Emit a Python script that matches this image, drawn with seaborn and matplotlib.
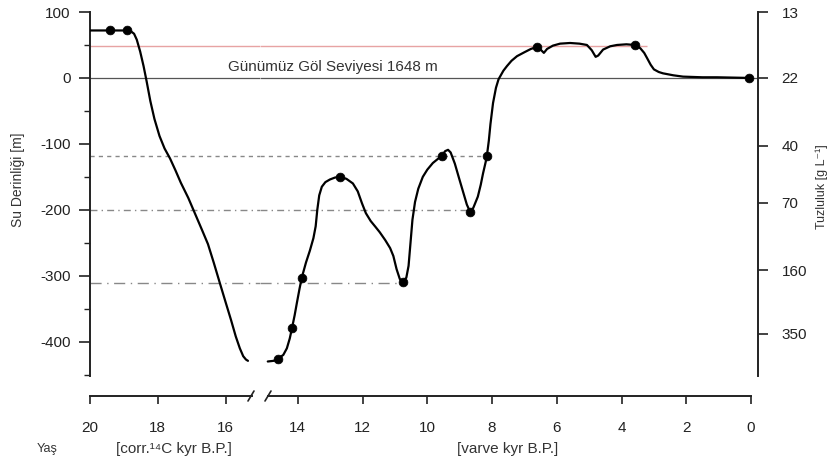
import seaborn as sns
import matplotlib.pyplot as plt
import matplotlib.lines as mlines
import pandas as pd

# lake level curve, old part (corrected 14C ages)
old_age = [20.0, 19.41, 18.91, 18.80, 18.70, 18.62, 18.52, 18.42, 18.33, 18.22, 18.10, 17.95,
           17.80, 17.64, 17.48, 17.32, 17.10, 16.90, 16.70, 16.52, 16.35, 16.17, 16.00, 15.84,
           15.70, 15.58, 15.48, 15.40, 15.34]
old_depth = [72, 72, 72, 71, 67, 58, 40, 18, -5, -35, -62, -88,
             -107, -122, -140, -159, -182, -206, -230, -252, -280, -311, -340, -367,
             -392, -410, -422, -427, -429]

# lake level curve, young part (varve ages)
young_age = [14.93, 14.75, 14.62, 14.45, 14.34, 14.25, 14.18, 14.10, 14.03, 13.95, 13.88, 13.75,
             13.63, 13.52, 13.45, 13.40, 13.34, 13.26, 13.15, 13.01, 12.85, 12.70, 12.50, 12.30,
             12.15, 12.02, 11.90, 11.75, 11.60, 11.47, 11.30, 11.15, 11.05, 10.95, 10.85, 10.75,
             10.65, 10.58, 10.52, 10.46, 10.38, 10.28, 10.14, 10.00, 9.83, 9.68, 9.55, 9.45,
             9.36, 9.28, 9.15, 9.02, 8.90, 8.78, 8.68, 8.58, 8.44, 8.35, 8.28, 8.20,
             8.16, 8.10, 8.05, 7.97, 7.88, 7.80, 7.65, 7.54, 7.40, 7.23, 7.00, 6.80,
             6.61, 6.50, 6.40, 6.30, 6.12, 5.90, 5.59, 5.30, 5.07, 4.92, 4.80, 4.72,
             4.57, 4.35, 4.14, 3.85, 3.58, 3.42, 3.30, 3.21, 3.10, 3.00, 2.85, 2.72,
             2.40, 2.10, 1.50, 1.05, 0.05]
young_depth = [-430, -429, -426, -420, -410, -395, -379, -360, -341, -320, -303, -280,
               -262, -243, -225, -200, -178, -165, -158, -154, -151, -150, -153, -160,
               -172, -190, -205, -217, -226, -234, -246, -258, -270, -290, -305, -309,
               -303, -285, -250, -215, -188, -168, -150, -139, -129, -123, -118, -111,
               -109, -113, -130, -152, -172, -192, -203, -197, -180, -162, -145, -128,
               -118, -95, -70, -38, -15, -2, 11, 18, 26, 33, 39, 44,
               47, 43, 38, 44, 49, 52, 53, 52, 50, 42, 32, 34,
               43, 48, 50, 51, 50, 45, 38, 30, 20, 13, 9, 7,
               4, 2, 1, 1, 0]

# dated points
dot_age = [19.41, 18.91, 14.62, 14.18, 13.88, 12.70, 10.75, 9.55, 8.68, 8.16, 6.61, 3.58, 0.05]
dot_depth = [72, 72, -426, -379, -303, -150, -309, -118, -203, -118, 47, 50, 0]

# salinity axis (right)
salt_pos = [100, 0, -103, -189, -292, -388]
salt_labels = ['13', '22', '40', '70', '160', '350']

# reference levels
red_level = 49
ref_levels = [-118, -200, -311]
ref_ends = [8.16, 8.68, 10.75]
ref_styles = [(0, (3, 3)), (0, (5, 3, 1, 3)), (0, (8, 4, 1, 4))]

sns.set_style('white')
plt.rcParams['font.family'] = ['Liberation Sans', 'DejaVu Sans']
plt.rcParams['axes.unicode_minus'] = False
ink = '#222222'

fig = plt.figure(figsize=(8.28, 4.70), dpi=100)
axL = fig.add_axes([90 / 828, 0.2, 170 / 828, 364 / 470])
axR = fig.add_axes([260 / 828, 0.2, 498 / 828, 364 / 470])

old = pd.DataFrame({'age': old_age, 'depth': old_depth})
young = pd.DataFrame({'age': young_age, 'depth': young_depth})
dots = pd.DataFrame({'age': dot_age, 'depth': dot_depth})

for ax, x0, x1 in [(axL, 20, 14.985), (axR, 15.17, -0.216)]:
    ax.set_xlim(x0, x1)
    ax.set_ylim(-452, 100)
    ax.patch.set_alpha(0)
    ax.hlines(red_level, x0, max(x1, 3.2), color='#e7a3a3', lw=1.0, zorder=1)
    ax.hlines(0, x0, x1, color='#555555', lw=0.9, zorder=1)
    for lev, end, ls in zip(ref_levels, ref_ends, ref_styles):
        ax.hlines(lev, x0, max(x1, end), color='#888888', lw=1.0, linestyles=[ls], zorder=1)
    sns.lineplot(data=old if ax is axL else young, x='age', y='depth', ax=ax,
                 color='black', lw=1.6, sort=False, estimator=None, zorder=3)
    sns.scatterplot(data=dots, x='age', y='depth', ax=ax, color='black', s=40,
                    edgecolor='black', zorder=4)
    ax.set_xlabel('')
    ax.set_ylabel('')
    ax.spines['top'].set_visible(False)
    ax.spines['bottom'].set_position(('outward', 14.4))
    ax.spines['bottom'].set_color(ink)
    ax.spines['bottom'].set_linewidth(1.4)
    ax.tick_params(axis='x', direction='out', length=6, width=1.2, color=ink,
                   labelsize=11, labelcolor=ink, pad=12, bottom=True)

# left part
axL.spines['right'].set_visible(False)
axL.spines['bottom'].set_bounds(20, 15.22)
axL.set_xticks([20, 18, 16])
axL.spines['left'].set_color(ink)
axL.spines['left'].set_linewidth(1.4)
axL.set_yticks([100, 0, -100, -200, -300, -400])
axL.set_yticks([50, -50, -150, -250, -350, -450], minor=True)
axL.tick_params(axis='y', which='major', direction='out', length=8, width=1.2, color=ink,
                labelsize=11, labelcolor=ink, pad=6, left=True)
axL.tick_params(axis='y', which='minor', direction='out', length=4, width=1.0, color=ink, left=True)

# right part
axR.spines['left'].set_visible(False)
axR.spines['bottom'].set_bounds(14.92, 0)
axR.set_xticks([14, 12, 10, 8, 6, 4, 2, 0])
axR.spines['right'].set_color(ink)
axR.spines['right'].set_linewidth(1.4)
axR.yaxis.set_ticks_position('right')
axR.set_yticks(salt_pos, salt_labels)
axR.tick_params(axis='y', direction='out', length=7, width=1.2, color=ink,
                labelsize=11, labelcolor=ink, pad=10, right=True, left=False)

# axis break marks
for xp in (251, 268):
    fig.add_artist(mlines.Line2D([(xp - 3) / 828, (xp + 3) / 828],
                                 [1 - 401 / 470, 1 - 391 / 470], color=ink, lw=1.2))

fig.text(333 / 828, 1 - 67 / 470, 'Günümüz Göl Seviyesi 1648 m', ha='center', va='center',
         fontsize=11, color='#333333')
fig.text(18 / 828, 1 - 180 / 470, 'Su Derinliği [m]', rotation=90, ha='center', va='center',
         fontsize=10, color='#333333')
fig.text(822 / 828, 1 - 187 / 470, 'Tuzluluk [g L⁻¹]', rotation=90, ha='center', va='center',
         fontsize=9, color='#333333')
fig.text(47 / 828, 1 - 449 / 470, 'Yaş', ha='center', va='center', fontsize=9, color='#333333')
fig.text(174 / 828, 1 - 449 / 470, '[corr.¹⁴C kyr B.P.]', ha='center', va='center',
         fontsize=11, color='#333333')
fig.text(508 / 828, 1 - 449 / 470, '[varve kyr B.P.]', ha='center', va='center',
         fontsize=11, color='#333333')

fig.savefig('out.png', dpi=100)
